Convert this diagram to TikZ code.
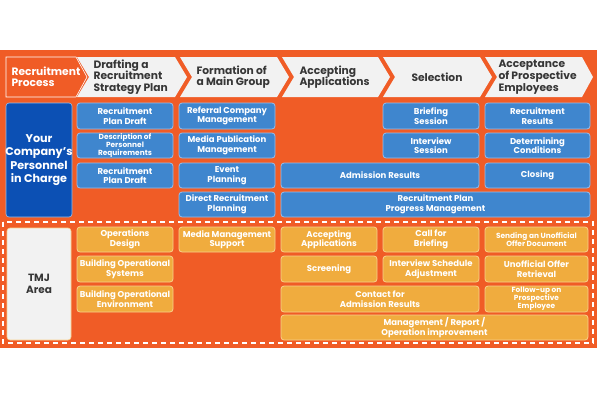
\documentclass[tikz,border=0pt]{standalone}
\usepackage{fontspec}
\setmainfont{Poppins}
\usepackage{tikz}
\usetikzlibrary{calc,positioning}
\definecolor{BgOrange}{RGB}{240,92,38}
\definecolor{BoxBlue}{RGB}{63,134,206}
\definecolor{BlueEdge}{RGB}{150,190,235}
\definecolor{DarkBlue}{RGB}{12,80,180}
\definecolor{BoxYellow}{RGB}{240,172,62}
\definecolor{YellowEdge}{RGB}{248,208,140}
\definecolor{LightGray}{RGB}{242,242,242}
\definecolor{DarkText}{RGB}{55,55,55}
\tikzstyle{HeaderBox} = [fill=LightGray]
\tikzstyle{HeaderText} = [right, text=DarkText, align=left,
    font=\bfseries\fontsize{10.7}{11.7}\selectfont]
\tikzstyle{BlueBox} = [draw=BlueEdge, fill=BoxBlue, line width=0.8pt, rounded corners=3pt]
\tikzstyle{YellowBox} = [draw=YellowEdge, fill=BoxYellow, line width=0.8pt, rounded corners=3pt]
\tikzstyle{BoxText} = [text=white, align=center, inner sep=0pt,
    font=\bfseries\fontsize{8.5}{9.5}\selectfont]
\tikzstyle{SmallText} = [text=white, align=center, inner sep=0pt,
    font=\bfseries\fontsize{7.4}{8.2}\selectfont]
\begin{document}
\begin{tikzpicture}[x=1pt,y=-1pt]
        \useasboundingbox (0,0) rectangle (600,400);
        \fill [BgOrange] (0,50) rectangle (597,348); %background
        % header
        \draw [white, fill=BgOrange, line width=0.6pt] (6,57) -- (76,57) -- (87,77) -- (76,97) -- (6,97) -- cycle;
        \node [right, text=white, align=left, font=\bfseries\fontsize{10.7}{11}\selectfont] (ProcessHead) at (8,77) {Recruitment\\Process};
        \fill [HeaderBox] (77,57) -- (175,57) -- (187,77) -- (175,97) -- (77,97) -- (89,77) -- cycle;
        \node [HeaderText] (DraftingHead) at (90,77) {Drafting a\\Recruitment\\Strategy Plan};
        \fill [HeaderBox] (180,57) -- (277,57) -- (289,77) -- (277,97) -- (180,97) -- (192,77) -- cycle;
        \node [HeaderText] (FormationHead) at (193,77) {Formation of\\a Main Group};
        \fill [HeaderBox] (282,57) -- (378,57) -- (390,77) -- (378,97) -- (282,97) -- (294,77) -- cycle;
        \node [HeaderText] (AcceptingHead) at (296,77) {Accepting\\Applications};
        \fill [HeaderBox] (383,57) -- (480,57) -- (492,77) -- (480,97) -- (383,97) -- (395,77) -- cycle;
        \node [HeaderText, anchor=center] (SelectionHead) at (437,77) {Selection};
        \fill [HeaderBox] (485,57) -- (582,57) -- (593,77) -- (582,97) -- (485,97) -- (497,77) -- cycle;
        \node [HeaderText] (AcceptanceHead) at (495,77) {Acceptance\\of Prospective\\Employees};
        % company side
        \draw [BlueEdge, fill=DarkBlue, line width=0.6pt, rounded corners=3pt] (6,103) rectangle (72,217) node[pos=0.5, text=white, align=center, font=\bfseries\fontsize{11.2}{13.3}\selectfont] (Company) {Your\\Company's\\Personnel\\in Charge};
        \draw [BlueBox] (77,103) rectangle (173,129) node[pos=0.5, BoxText] (PlanDraftA) {Recruitment\\Plan Draft}; %plan draft
        \draw [BlueBox] (77,133) rectangle (173,158) node[pos=0.5, SmallText] (Requirements) {Description of\\Personnel\\Requirements}; %requirements
        \draw [BlueBox] (77,163) rectangle (173,188) node[pos=0.5, BoxText] (PlanDraftB) {Recruitment\\Plan Draft}; %plan draft again
        \draw [BlueBox] (179,103) rectangle (275,129) node[pos=0.5, BoxText] (Referral) {Referral Company\\Management};
        \draw [BlueBox] (179,133) rectangle (275,158) node[pos=0.5, BoxText] (MediaPub) {Media Publication\\Management};
        \draw [BlueBox] (179,163) rectangle (275,188) node[pos=0.5, BoxText] (Event) {Event\\Planning};
        \draw [BlueBox] (179,192) rectangle (275,217) node[pos=0.5, BoxText] (Direct) {Direct Recruitment\\Planning};
        \draw [BlueBox] (383,103) rectangle (479,129) node[pos=0.5, BoxText] (Briefing) {Briefing\\Session};
        \draw [BlueBox] (383,133) rectangle (479,158) node[pos=0.5, BoxText] (Interview) {Interview\\Session};
        \draw [BlueBox] (281,163) rectangle (479,188) node[pos=0.5, BoxText] (Admission) {Admission Results}; %spans two
        \draw [BlueBox] (485,103) rectangle (590,129) node[pos=0.5, BoxText] (Results) {Recruitment\\Results};
        \draw [BlueBox] (485,133) rectangle (590,158) node[pos=0.5, BoxText] (Conditions) {Determining\\Conditions};
        \draw [BlueBox] (485,163) rectangle (590,188) node[pos=0.5, BoxText] (Closing) {Closing};
        \draw [BlueBox] (281,192) rectangle (590,217) node[pos=0.5, BoxText] (Progress) {Recruitment Plan\\Progress Management}; %spans three
        % tmj side
        \draw [white, dashed, dash pattern=on 5pt off 4pt, line width=1.2pt] (3,222) rectangle (593,343); %dashed area
        \draw [YellowEdge, fill=LightGray, line width=0.6pt, rounded corners=3pt] (7,228) rectangle (71,340) node[pos=0.5, text=DarkText, align=center, font=\bfseries\fontsize{10.5}{11.5}\selectfont] (TMJ) {TMJ\\Area};
        \draw [YellowBox] (77,227) rectangle (173,252) node[pos=0.5, BoxText] (OpDesign) {Operations\\Design};
        \draw [YellowBox] (77,256) rectangle (173,282) node[pos=0.5, BoxText] (OpSystems) {Building Operational\\Systems};
        \draw [YellowBox] (77,286) rectangle (173,312) node[pos=0.5, BoxText] (OpEnv) {Building Operational\\Environment};
        \draw [YellowBox] (179,227) rectangle (275,252) node[pos=0.5, BoxText] (MediaSupport) {Media Management\\Support};
        \draw [YellowBox] (281,227) rectangle (377,252) node[pos=0.5, BoxText] (AcceptApps) {Accepting\\Applications};
        \draw [YellowBox] (281,256) rectangle (377,282) node[pos=0.5, BoxText] (Screening) {Screening};
        \draw [YellowBox] (383,227) rectangle (479,252) node[pos=0.5, BoxText] (CallBriefing) {Call for\\Briefing};
        \draw [YellowBox] (383,256) rectangle (479,282) node[pos=0.5, BoxText] (Schedule) {Interview Schedule\\Adjustment};
        \draw [YellowBox] (281,286) rectangle (479,312) node[pos=0.5, BoxText] (Contact) {Contact for\\Admission Results}; %spans two
        \draw [YellowBox] (485,227) rectangle (588,252) node[pos=0.5, SmallText] (Sending) {Sending an Unofficial\\Offer Document};
        \draw [YellowBox] (485,256) rectangle (588,282) node[pos=0.5, BoxText] (Retrieval) {Unofficial Offer\\Retrieval};
        \draw [YellowBox] (485,286) rectangle (588,312) node[pos=0.5, SmallText] (FollowUp) {Follow-up on\\Prospective\\Employee};
        \draw [YellowBox] (281,315) rectangle (588,340) node[pos=0.5, BoxText] (Management) {Management / Report /\\Operation improvement}; %spans three
    \end{tikzpicture}
\end{document}
